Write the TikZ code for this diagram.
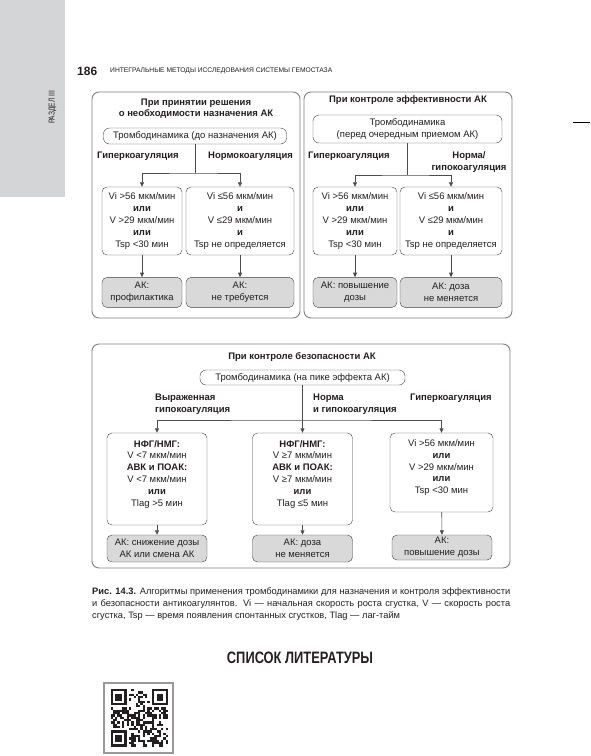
\documentclass[tikz,border=0pt]{standalone}
\usepackage{fontspec}
\setmainfont{Liberation Sans}
\newfontfamily\condfont[FakeStretch=0.78]{Liberation Sans}
\usetikzlibrary{positioning, arrows.meta}
\definecolor{tabgray}{HTML}{D4D5D7}
\definecolor{resgray}{HTML}{D9D9D9}
\definecolor{ink}{HTML}{231F20}
\tikzset{
  panel/.style={draw=black!50, rounded corners=7pt, line width=0.9pt},
  ttl/.style={font=\fontsize{9.5}{11}\selectfont\bfseries, align=center, inner sep=0pt},
  tdbox/.style={draw=black!75, rounded corners=6pt, align=center, inner sep=0pt,
                font=\fontsize{9.5}{11.5}\selectfont},
  cond/.style={draw=black!75, rounded corners=5pt, align=center, inner sep=0pt,
               font=\fontsize{9.5}{11.8}\selectfont},
  res/.style={cond, fill=resgray},
  grp/.style={font=\fontsize{9.5}{12.5}\selectfont\bfseries, align=left, anchor=west, inner sep=0pt},
  link/.style={draw=black!70, line width=0.6pt},
  flow/.style={link, -{Triangle[length=4.5pt, width=4pt]}},
  flowtwo/.style={link, {Triangle[length=4.5pt, width=4pt]}-{Triangle[length=4.5pt, width=4pt]}}
}
\newcommand{\ili}{\textbf{или}}
\newcommand{\andi}{\textbf{и}}

\begin{document}
\begin{tikzpicture}[x=1pt, y=-1pt, every node/.style={text=ink}]
  \useasboundingbox (0,0) rectangle (590,756);
  % page furniture
  \fill[tabgray] (0,0) rectangle (65,197);
  \node[rotate=90, inner sep=0pt, font=\condfont\fontsize{8.5}{9}\selectfont] (sect) at (52.5,107.5) {РАЗДЕЛ III};
  \node[anchor=west, inner sep=0pt, font=\fontsize{12}{12}\selectfont\bfseries] (pgno) at (77,71) {186};
  \node[anchor=west, inner sep=0pt, font=\fontsize{6.7}{7}\selectfont] (runhead) at (110,71)
    {ИНТЕГРАЛЬНЫЕ МЕТОДЫ ИССЛЕДОВАНИЯ СИСТЕМЫ ГЕМОСТАЗА};
  \draw[line width=1pt] (573,122) -- (590,122);

  % panel 1
  \draw[panel] (92,92) rectangle (300,318);
  \node[ttl] (p1t) at (196,109) {При принятии решения\\о необходимости назначения АК};
  \node[tdbox, minimum width=183pt, minimum height=16pt] (td1) at (195,136) {Тромбодинамика (до назначения АК)};
  \node[grp] (hyp1) at (97,156) {Гиперкоагуляция};
  \node[grp] (norm1) at (208,156) {Нормокоагуляция};
  \node[cond, minimum width=80pt, minimum height=68pt] (c11) at (142,221)
    {Vi >56 мкм/мин\\\ili\\V >29 мкм/мин\\\ili\\Tsp <30 мин};
  \node[cond, minimum width=108pt, minimum height=68pt] (c12) at (240,221)
    {Vi ≤56 мкм/мин\\\andi\\V ≤29 мкм/мин\\\andi\\Tsp не определяется};
  \node[res, minimum width=80pt, minimum height=30pt, below=22pt of c11] (r11) {АК:\\профилактика};
  \node[res, minimum width=108pt, minimum height=30pt, below=22pt of c12] (r12) {АК:\\не требуется};
  \coordinate (s1) at (195,173);
  \draw[link] (td1) -- (s1);
  \draw[flowtwo] (c11.north) |- (s1) -| (c12.north);
  \draw[flow] (c11) -- (r11);
  \draw[flow] (c12) -- (r12);

  % panel 2
  \draw[panel] (304,92) rectangle (512,318);
  \node[ttl] (p2t) at (408,100.5) {При контроле эффективности АК};
  \node[tdbox, minimum width=189pt, minimum height=28pt] (td2) at (407.5,129) {Тромбодинамика\\(перед очередным приемом АК)};
  \node[grp] (hyp2) at (308,156) {Гиперкоагуляция};
  \node[grp, align=center, anchor=center] (norm2) at (469,162) {Норма/\\гипокоагуляция};
  \node[cond, minimum width=84pt, minimum height=68pt] (c21) at (355,221)
    {Vi >56 мкм/мин\\\ili\\V >29 мкм/мин\\\ili\\Tsp <30 мин};
  \node[cond, minimum width=102pt, minimum height=68pt] (c22) at (451,221)
    {Vi ≤56 мкм/мин\\\andi\\V ≤29 мкм/мин\\\andi\\Tsp не определяется};
  \node[res, minimum width=84pt, minimum height=30pt, below=22pt of c21] (r21) {АК: повышение\\дозы};
  \node[res, minimum width=102pt, minimum height=30pt, below=22pt of c22] (r22) {АК: доза\\не меняется};
  \coordinate (s2) at (407.5,175);
  \draw[link] (td2) -- (s2);
  \draw[flowtwo] (c21.north) |- (s2) -| (c22.north);
  \draw[flow] (c21) -- (r21);
  \draw[flow] (c22) -- (r22);

  % panel 3
  \draw[panel] (92,344) rectangle (510,568);
  \node[ttl] (p3t) at (302,357) {При контроле безопасности АК};
  \node[tdbox, minimum width=205pt, minimum height=15pt] (td3) at (302.5,377.5) {Тромбодинамика (на пике эффекта АК)};
  \node[grp] (hypo3) at (155,404) {Выраженная\\гипокоагуляция};
  \node[grp] (norm3) at (313,404) {Норма\\и гипокоагуляция};
  \node[grp] (hyp3) at (410,398) {Гиперкоагуляция};
  \node[cond, minimum width=100pt, minimum height=92pt] (c31) at (157,479)
    {\textbf{НФГ/НМГ:}\\V <7 мкм/мин\\\textbf{АВК и ПОАК:}\\V <7 мкм/мин\\\ili\\Tlag >5 мин\\\mbox{}};
  \node[cond, minimum width=100pt, minimum height=92pt] (c32) at (302.5,479)
    {\textbf{НФГ/НМГ:}\\V ≥7 мкм/мин\\\textbf{АВК и ПОАК:}\\V ≥7 мкм/мин\\\ili\\Tlag ≤5 мин\\\mbox{}};
  \node[cond, minimum width=103pt, minimum height=79pt] (c33) at (441.5,472.5)
    {Vi >56 мкм/мин\\\ili\\V >29 мкм/мин\\\ili\\Tsp <30 мин\\\mbox{}};
  \node[res, minimum width=100pt, minimum height=27pt] (r31) at (157,548.5) {АК: снижение дозы\\АК или смена АК};
  \node[res, minimum width=100pt, minimum height=27pt] (r32) at (302.5,548.5) {АК: доза\\не меняется};
  \node[res, minimum width=100pt, minimum height=25pt] (r33) at (442,547.5) {АК:\\повышение дозы};
  \coordinate (s3) at (302.5,420);
  \draw[flow] (td3) -- (c32);
  \draw[flowtwo] (c31.north) |- (s3) -| (c33.north);
  \draw[flow] (c31) -- (r31);
  \draw[flow] (c32) -- (r32);
  \draw[flow] (c33) -- (r33);

  % caption and references
  \node[anchor=north west, text width=418pt, align=justify, inner sep=0pt,
        font=\fontsize{9.3}{12.2}\selectfont] (cap) at (92,587)
    {\textbf{Рис. 14.3.} Алгоритмы применения тромбодинамики для назначения и контроля эффективности\linebreak
     и безопасности антикоагулянтов. Vi — начальная скорость роста сгустка, V — скорость роста\linebreak
     сгустка, Tsp — время появления спонтанных сгустков, Tlag — лаг-тайм};
  \node[inner sep=0pt, font=\condfont\fontsize{16.5}{17}\selectfont\bfseries] (refs) at (300,658) {СПИСОК ЛИТЕРАТУРЫ};

  % qr code
  \draw[black!40, line width=1.2pt] (104,683) rectangle (173,753);
  \def\qm{2.3}
  \pgfmathsetseed{11}
  \foreach \i in {0,...,24}{
    \foreach \j in {0,...,24}{
      \pgfmathtruncatemacro{\fz}{(\i<8 && \j<8) || (\i>16 && \j<8) || (\i<8 && \j>16)}
      \pgfmathtruncatemacro{\on}{rnd<0.45}
      \ifnum\fz=0 \ifnum\on=1 \fill[ink] (110.5+\i*\qm,689+\j*\qm) rectangle ++(\qm,\qm); \fi\fi
    }
  }
  \foreach \a/\b in {0/0, 18/0, 0/18}{
    \fill[ink] (110.5+\a*\qm,689+\b*\qm) rectangle ++(7*\qm,7*\qm);
    \fill[white] (110.5+\a*\qm+\qm,689+\b*\qm+\qm) rectangle ++(5*\qm,5*\qm);
    \fill[ink] (110.5+\a*\qm+2*\qm,689+\b*\qm+2*\qm) rectangle ++(3*\qm,3*\qm);
  }
\end{tikzpicture}
\end{document}
